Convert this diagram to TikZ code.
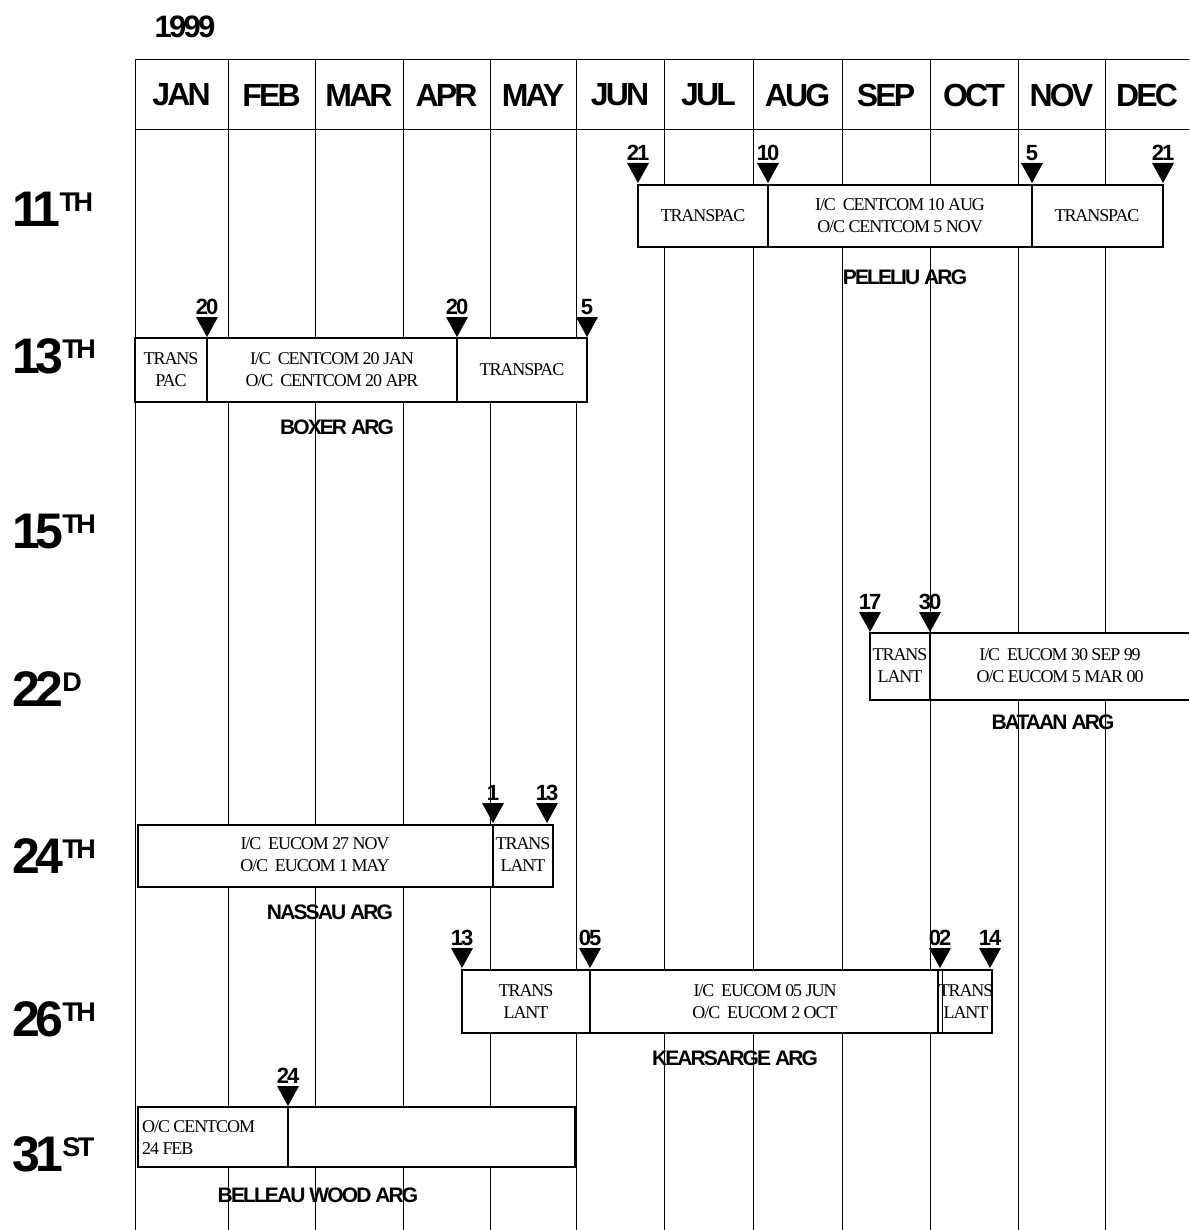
\documentclass[tikz,border=0pt]{standalone}
\usepackage{fontspec}
\setmainfont{Liberation Serif}
\newfontfamily\headfont{Liberation Sans}[LetterSpace=-9]
\newfontfamily\boxfont{Liberation Serif}[LetterSpace=-6]
\usetikzlibrary{positioning}

% triangle marker with its day number: x, top of triangle, label
\newcommand{\daymarker}[3]{%
  \fill (#1-11,#2) -- ++(22,0) -- ++(-11,20) -- cycle;
  \node[daylbl] (d-#1-#2) at (#1,#2-2) {#3};}

\begin{document}
\begin{tikzpicture}[x=1pt,y=-1pt,
    every node/.style={inner sep=0pt},
    gridline/.style={line width=1pt},
    bar/.style={draw, fill=white, line width=1.7pt},
    yearlbl/.style={font=\headfont\bfseries\fontsize{31}{31}\selectfont},
    monthlbl/.style={font=\headfont\bfseries\fontsize{32}{32}\selectfont},
    rowlbl/.style={font=\headfont\bfseries\fontsize{50}{50}\selectfont, anchor=base west},
    shiplbl/.style={font=\headfont\bfseries\fontsize{21}{21}\selectfont},
    daylbl/.style={font=\headfont\bfseries\fontsize{22}{22}\selectfont, anchor=south},
    boxtxt/.style={font=\boxfont\fontsize{18}{22}\selectfont, align=center}]
  \useasboundingbox (0,0) rectangle (1189,1230);

  % year and month grid
  \node[yearlbl] (year) at (185,27) {1999};
  \draw[gridline] (135,60) -- (1189,60);
  \draw[gridline] (135,130) -- (1189,130);
  \foreach \a/\b/\m in {135/228/JAN,228/315/FEB,315/403/MAR,403/490/APR,
      490/576/MAY,576/664/JUN,664/753/JUL,753/842/AUG,842/930/SEP,
      930/1018/OCT,1018/1105/NOV,1105/1189/DEC}{
    \draw[gridline] (\a,60) -- (\a,1230);
    \node[monthlbl] (m-\m) at ({(\a+\b)/2},95) {\m};
  }

  % MEU rows
  \foreach \y/\n/\s in {227/11/TH,373/13/TH,548/15/TH,706/22/D,
      873/24/TH,1036/26/TH,1171/31/ST}
    \node[rowlbl] (r-\n) at (12,\y) {\n\kern-1pt\raisebox{15pt}{\fontsize{27}{27}\selectfont\s}};

  % 11TH - Peleliu
  \draw[bar] (638,185) rectangle (1163,247);
  \draw[bar] (768,185) -- (768,247) (1032,185) -- (1032,247);
  \node[boxtxt] (pel-a) at (703,216) {TRANSPAC};
  \node[boxtxt] (pel-b) at (900,216) {I/C\ \ CENTCOM 10 AUG\\O/C CENTCOM 5 NOV};
  \node[boxtxt] (pel-c) at (1097,216) {TRANSPAC};
  \node[shiplbl] (pel) at (905,277) {PELELIU ARG};
  \daymarker{638}{163}{21}
  \daymarker{768}{163}{10}
  \daymarker{1032}{163}{5}
  \daymarker{1163}{163}{21}

  % 13TH - Boxer
  \draw[bar] (135,338) rectangle (587,402);
  \draw[bar] (207,338) -- (207,402) (457,338) -- (457,402);
  \node[boxtxt] (box-a) at (171,370) {TRANS\\PAC};
  \node[boxtxt] (box-b) at (332,370) {I/C\ \ CENTCOM 20 JAN\\O/C\ \ CENTCOM 20 APR};
  \node[boxtxt] (box-c) at (522,370) {TRANSPAC};
  \node[shiplbl] (box) at (337,427) {BOXER ARG};
  \daymarker{207}{317}{20}
  \daymarker{457}{317}{20}
  \daymarker{587}{317}{5}

  % 22D - Bataan
  \fill[white] (870,633) rectangle (1189,700);
  \draw[bar] (1189,633) -- (870,633) -- (870,700) -- (1189,700);
  \draw[bar] (930,633) -- (930,700);
  \node[boxtxt] (bat-a) at (900,666) {TRANS\\LANT};
  \node[boxtxt] (bat-b) at (1060,666) {I/C\ \ EUCOM 30 SEP 99\\O/C EUCOM 5 MAR 00};
  \node[shiplbl] (bat) at (1053,722) {BATAAN ARG};
  \daymarker{870}{612}{17}
  \daymarker{930}{612}{30}

  % 24TH - Nassau
  \draw[bar] (138,825) rectangle (553,887);
  \draw[bar] (493,825) -- (493,887);
  \node[boxtxt] (nas-a) at (315,855) {I/C\ \ EUCOM 27 NOV\\O/C\ \ EUCOM 1 MAY};
  \node[boxtxt] (nas-b) at (523,855) {TRANS\\LANT};
  \node[shiplbl] (nas) at (330,912) {NASSAU ARG};
  \daymarker{493}{803}{1}
  \daymarker{547}{803}{13}

  % 26TH - Kearsarge
  \draw[bar] (462,970) rectangle (992,1033);
  \draw[bar] (590,970) -- (590,1033) (938,970) -- (938,1033);
  \draw[gridline] (942,970) -- (942,1033);
  \node[boxtxt] (kea-a) at (526,1002) {TRANS\\LANT};
  \node[boxtxt] (kea-b) at (765,1002) {I/C\ \ EUCOM 05 JUN\\O/C\ \ EUCOM 2 OCT};
  \node[boxtxt] (kea-c) at (966,1002) {TRANS\\LANT};
  \node[shiplbl] (kea) at (735,1058) {KEARSARGE ARG};
  \daymarker{462}{948}{13}
  \daymarker{590}{948}{05}
  \daymarker{940}{948}{02}
  \daymarker{990}{948}{14}

  % 31ST - Belleau Wood
  \draw[bar] (138,1107) rectangle (575,1167);
  \draw[bar] (288,1107) -- (288,1167);
  \node[boxtxt, align=left, anchor=west] (bel-a) at (142,1138) {O/C CENTCOM\\24 FEB};
  \node[shiplbl] (bel) at (318,1195) {BELLEAU WOOD ARG};
  \daymarker{288}{1086}{24}
\end{tikzpicture}
\end{document}
